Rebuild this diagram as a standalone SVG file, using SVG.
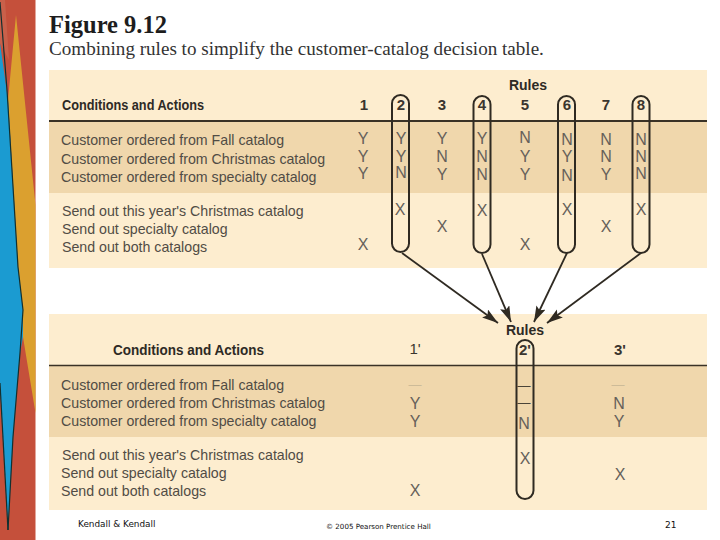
<svg xmlns="http://www.w3.org/2000/svg" width="720" height="540" viewBox="0 0 720 540">
<style>
.panel{fill:#fdedcf}.band{fill:#f0d7ac}
.rule{stroke:#3a3226;stroke-width:2;fill:none}
.t{font-family:"Liberation Sans",Arial,sans-serif;font-size:14.2px;fill:#514c45}
.h{font-family:"Liberation Sans",Arial,sans-serif;font-size:14px;font-weight:bold;fill:#2e2a25}
.n{font-family:"Liberation Sans",Arial,sans-serif;font-size:15px;font-weight:bold;fill:#3a352e;text-anchor:middle}
.c{font-family:"Liberation Sans",Arial,sans-serif;font-size:16px;fill:#65605a;text-anchor:middle}
.d{font-family:"Liberation Sans",Arial,sans-serif;font-size:13px;text-anchor:middle}
.pill{fill:none;stroke:#2f2a22;stroke-width:2}
.conn{stroke:#2f2a22;stroke-width:1.8;fill:none;marker-end:url(#ah)}
.f{font-family:"DejaVu Sans",sans-serif;fill:#111}
.edge{fill:none;stroke:#12302f;stroke-width:1.2}
</style>
<defs>
<marker id="ah" markerUnits="userSpaceOnUse" markerWidth="18" markerHeight="12" refX="16" refY="5" orient="auto"><path d="M0 0L16 5L0 10L3 5Z" fill="#2f2a22"/></marker>
</defs>
<rect width="720" height="540" fill="#fff"/>
<g id="strip">
<rect x="0" y="0" width="35.500" height="540" fill="#c5503b"/>
<polygon points="16,15 35.500,205 35.500,270 35.500,413 23,337 23,310 18,267 8,100" fill="#dba02f"/>
<polygon points="0,43 8,100 18,267 23,310 23,337 20,353 13,437 8,530 0,383" fill="#1b9bd1"/>
<polygon points="0,0 5,0 9,60 0,43" fill="#c9604a"/>
<polyline class="edge" points="0,2 7,90 18,267 23,310 20,353 13,437 8,530"/>
<polyline class="edge" points="0,383 8,530"/>
</g>
<g id="title">
<text x="49" y="33" font-family="Liberation Serif,serif" font-size="24.500" font-weight="bold" fill="#1d1d1d">Figure 9.12</text>
<text x="49" y="55" font-family="Liberation Serif,serif" font-size="19.100" fill="#333">Combining rules to simplify the customer-catalog decision table.</text>
</g>
<g id="table1">
<rect class="panel" x="49" y="70" width="658" height="198"/>
<rect class="band" x="49" y="122" width="658" height="71"/>
<line class="rule" x1="49" y1="121" x2="707" y2="121"/>
<text class="h" x="62" y="110" textLength="142" lengthAdjust="spacingAndGlyphs">Conditions and Actions</text>
<text class="h" x="528" y="90" text-anchor="middle">Rules</text>
<g class="n-row">
<text class="n" x="364" y="110">1</text><text class="n" x="401" y="110">2</text><text class="n" x="442" y="110">3</text><text class="n" x="482" y="110">4</text><text class="n" x="525" y="110">5</text><text class="n" x="567" y="110">6</text><text class="n" x="606" y="110">7</text><text class="n" x="641" y="110">8</text>
</g>
<text class="t" x="61" y="145">Customer ordered from Fall catalog</text>
<text class="t" x="61" y="164">Customer ordered from Christmas catalog</text>
<text class="t" x="61" y="182">Customer ordered from specialty catalog</text>
<text class="t" x="62" y="216">Send out this year's Christmas catalog</text>
<text class="t" x="62" y="234">Send out specialty catalog</text>
<text class="t" x="62" y="252">Send out both catalogs</text>
<g id="cells1">
<text class="c" x="363" y="144">Y</text><text class="c" x="363" y="162">Y</text><text class="c" x="363" y="179">Y</text>
<text class="c" x="401" y="144">Y</text><text class="c" x="401" y="162">Y</text><text class="c" x="401" y="178">N</text>
<text class="c" x="442" y="144">Y</text><text class="c" x="442" y="162">N</text><text class="c" x="442" y="180">Y</text>
<text class="c" x="482" y="144">Y</text><text class="c" x="482" y="162">N</text><text class="c" x="482" y="180">N</text>
<text class="c" x="525" y="143">N</text><text class="c" x="525" y="162">Y</text><text class="c" x="525" y="180">Y</text>
<text class="c" x="567" y="145">N</text><text class="c" x="567" y="162">Y</text><text class="c" x="567" y="181">N</text>
<text class="c" x="606" y="145">N</text><text class="c" x="606" y="162">N</text><text class="c" x="606" y="180">Y</text>
<text class="c" x="641" y="145">N</text><text class="c" x="641" y="162">N</text><text class="c" x="641" y="179">N</text>
<text class="c" x="400" y="215">X</text><text class="c" x="482" y="216">X</text><text class="c" x="567" y="215">X</text><text class="c" x="641" y="215">X</text>
<text class="c" x="442" y="232">X</text><text class="c" x="606" y="232">X</text>
<text class="c" x="363" y="250">X</text><text class="c" x="525" y="250">X</text>
</g>
</g>
<g id="table2">
<rect class="panel" x="49" y="314" width="658" height="196"/>
<rect class="band" x="49" y="366" width="658" height="71"/>
<line class="rule" x1="49" y1="365.500" x2="707" y2="365.500" style="stroke-width:1.6"/>
<text class="h" x="113" y="355" textLength="151" lengthAdjust="spacingAndGlyphs">Conditions and Actions</text>
<text class="h" x="525" y="335" text-anchor="middle">Rules</text>
<text class="n" x="415" y="354" style="font-weight:normal">1'</text><text class="n" x="525" y="355">2'</text><text class="n" x="620" y="355">3'</text>
<text class="t" x="61" y="390">Customer ordered from Fall catalog</text>
<text class="t" x="61" y="408">Customer ordered from Christmas catalog</text>
<text class="t" x="61" y="426">Customer ordered from specialty catalog</text>
<text class="t" x="62" y="460">Send out this year's Christmas catalog</text>
<text class="t" x="61" y="478">Send out specialty catalog</text>
<text class="t" x="61" y="496">Send out both catalogs</text>
<g id="cells2">
<text class="d" x="415" y="389" fill="#cdbb98">—</text><text class="c" x="415" y="409">Y</text><text class="c" x="415" y="427">Y</text>
<text class="d" x="524" y="390" fill="#4a4438">—</text><text class="d" x="524" y="407" fill="#4a4438">—</text><text class="c" x="524" y="429">N</text>
<text class="d" x="618" y="389" fill="#cdbb98">—</text><text class="c" x="619" y="409">N</text><text class="c" x="619" y="427">Y</text>
<text class="c" x="525" y="464">X</text><text class="c" x="620" y="480">X</text><text class="c" x="415" y="496">X</text>
</g>
</g>
<g id="connectors">
<line class="conn" x1="402" y1="253" x2="498" y2="323"/>
<line class="conn" x1="482" y1="254" x2="511" y2="322"/>
<line class="conn" x1="567" y1="253" x2="534" y2="322"/>
<line class="conn" x1="641" y1="253" x2="547" y2="323"/>
</g>
<g id="pill-2"><rect class="pill" x="392" y="95" width="17" height="157" rx="8.500"/></g>
<g id="pill-4"><rect class="pill" x="473.500" y="96" width="17" height="157" rx="8.500"/></g>
<g id="pill-6"><rect class="pill" x="558" y="96" width="17" height="157" rx="8.500"/></g>
<g id="pill-8"><rect class="pill" x="632.500" y="96" width="17" height="157" rx="8.500"/></g>
<g id="pill-2p"><rect class="pill" x="516.500" y="340" width="17" height="159" rx="8.500"/></g>
<g id="footer">
<text class="f" x="78" y="527" font-size="8.900">Kendall &amp; Kendall</text>
<text class="f" x="326" y="529" font-size="7.100">© 2005 Pearson Prentice Hall</text>
<text class="f" x="665" y="528" font-size="9">21</text>
</g>
</svg>
